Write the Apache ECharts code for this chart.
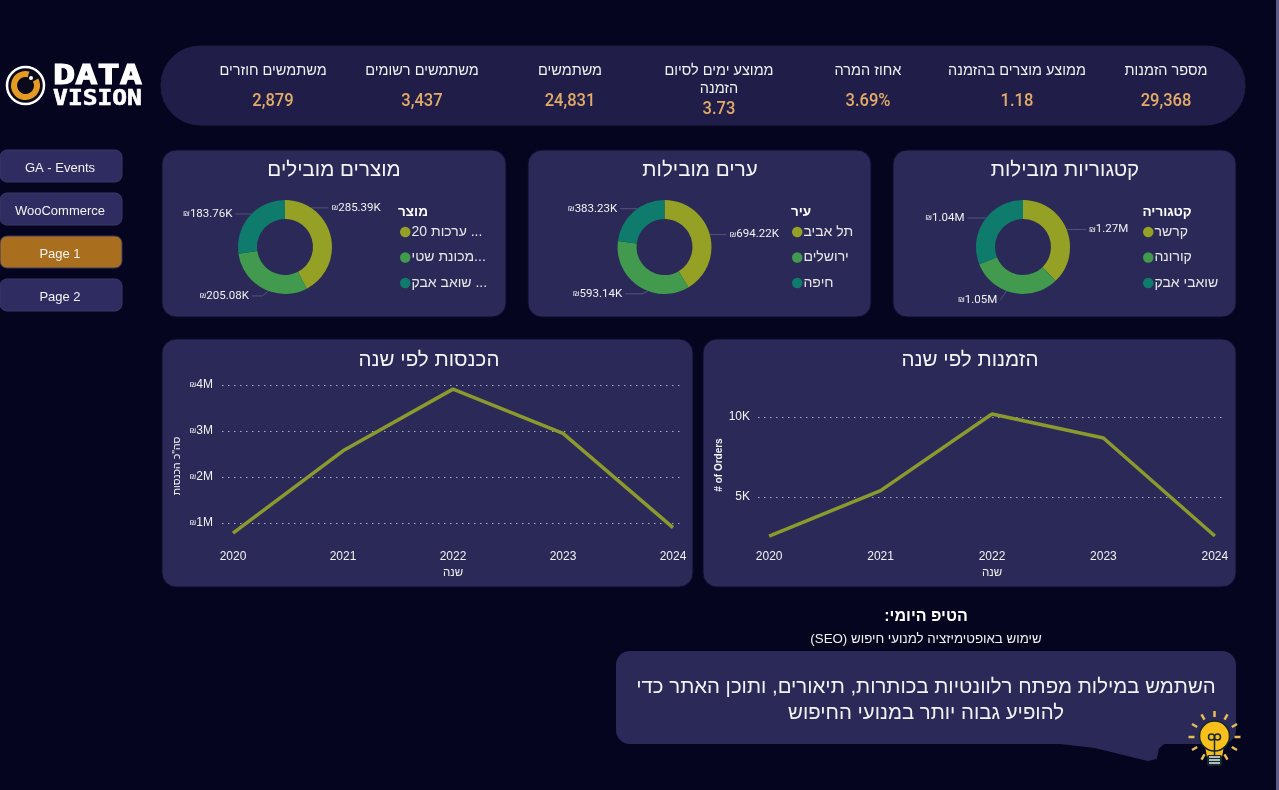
<!DOCTYPE html>
<html><head><meta charset="utf-8">
<style>html,body{margin:0;padding:0;background:#05051f;overflow:hidden}#c{width:1279px;height:790px}</style>
<script src="https://cdn.jsdelivr.net/npm/echarts@6/dist/echarts.min.js"></script></head>
<body><div id="c"></div>
<script>
const kpiLabels=['מספר הזמנות','ממוצע מוצרים בהזמנה','אחוז המרה','ממוצע ימים לסיום\nהזמנה','משתמשים','משתמשים רשומים','משתמשים חוזרים'];
const kpiValues=['29,368','1.18','3.69%','3.73','24,831','3,437','2,879'];
const navLabels=['GA - Events','WooCommerce','Page 1','Page 2'];
const catNames=['קרשר','קורונה','שואבי אבק'];
const catValues=[1.27e6,1.05e6,1.04e6];
const catLabels=['1.27M','1.05M','1.04M'];
const cityNames=['תל אביב','ירושלים','חיפה'];
const cityValues=[694220,593140,383230];
const cityLabels=['694.22K','593.14K','383.23K'];
const prodNames=['20 ערכות ...','מכונת שטי...','שואב אבק ...'];
const prodValues=[285390,205080,183760];
const prodLabels=['285.39K','205.08K','183.76K'];
const years=[2020,2021,2022,2023,2024];
const orders=[2560,5400,10190,8690,2560];
const revenue=[780000,2570000,3910000,2950000,900000];
const FONT='"Liberation Sans","DejaVu Sans",sans-serif';
const NUM='Roboto,"Liberation Sans",sans-serif';
const CARD='#2b2957', OLIVE='#95a125', GREEN='#419a4d', TEAL='#0f7b6c', LINE='#8b9a2c';
const kpiX=[1166,1017,868,719,570,422,273];
const donutX=[1023,664.5,285];
const labelShift=[[[0,3],[1,-1],[2,2]],[[-3,2],[3,1],[4,3]],[[-22,-26],[4,0],[4,3]]];
function card(x,y,w,h,r,fill,stroke){return {type:'rect',silent:true,z:0,shape:{x,y,width:w,height:h,r},style:{fill:fill||CARD,stroke:stroke||'#0c0c2c',lineWidth:1}};}
function txt(x,y,t,size,fill,extra,sx){return {type:'text',z:5,silent:true,x,y,scaleX:sx||1,style:Object.assign({text:t,fill:fill||'#fff',font:`${size}px ${FONT}`,align:'center',verticalAlign:'middle'},extra||{})};}
const g=[];
g.push({type:'rect',silent:true,z:0,shape:{x:1276,y:0,width:3,height:790},style:{fill:'#5c5c86'}});
g.push(card(161,46,1084,79,39,'#201e49','#201e49'));
kpiLabels.forEach((l,i)=>{
  const two=l.includes('\n');
  g.push(txt(kpiX[i],two?80:71,l,14.5,'#f2f2f2',{lineHeight:18}));
  g.push(txt(kpiX[i],two?109:101,kpiValues[i],19,'#e3ab68',{font:`500 19px ${NUM}`},0.87));
});
[[893,150,343,167],[528,150,343,167],[162,150,344,167],[703,339,533,248],[162,339,531,248]].forEach(c=>g.push(card(c[0],c[1],c[2],c[3],14)));
[150,193,236,279].forEach((y,i)=>{
  g.push(card(0,y,122,32,7,i===2?'#a96f1f':'#2e2c61','#3a3868'));
  g.push(txt(60,y+18,navLabels[i],13,'#f2f2f2'));
});
// logo
g.push({type:'circle',z:4,silent:true,shape:{cx:25.5,cy:85.5,r:18.5},style:{fill:'#0a0a1c',stroke:'#fff',lineWidth:2.5}});
g.push({type:'arc',z:5,silent:true,shape:{cx:25.5,cy:85.5,r:11.5,startAngle:-0.5,endAngle:-1.3,clockwise:true},style:{stroke:'#e59a22',lineWidth:6,fill:null}});
g.push({type:'circle',z:6,silent:true,shape:{cx:31,cy:78,r:2},style:{fill:'#fff'}});
g.push(txt(97.5,77,'DATA',27,'#fff',{font:`bold 27px "DejaVu Sans Mono",monospace`,stroke:'#fff',lineWidth:1},1.37));
g.push(txt(97.5,99.5,'VISION',21,'#fff',{font:`bold 21px "DejaVu Sans Mono",monospace`,stroke:'#fff',lineWidth:0.6},1.17));
// tip
g.push(txt(926,617,'הטיפ היומי:\u200F',16,'#fff',{font:`bold 16px ${FONT}`}));
g.push(txt(926,639,'(SEO) שימוש באופטימיזציה למנועי חיפוש',13.3,'#f2f2f2'));
g.push({type:'polygon',z:1,silent:true,shape:{points:[[1060,743],[1095,747],[1148,760],[1156,758],[1158,748],[1164,743]]},style:{fill:CARD,stroke:CARD,lineWidth:2,lineJoin:'round'}});
g.push({type:'rect',z:1,silent:true,shape:{x:616,y:651,width:620,height:93,r:14},style:{fill:CARD}});
g.push(txt(926,687,'השתמש במילות מפתח רלוונטיות בכותרות, תיאורים, ותוכן האתר כדי',20.4,'#f2f2f2'));
g.push(txt(926,713,'להופיע גבוה יותר במנועי החיפוש',20.4,'#f2f2f2'));
// axis names for the x axes
g.push(txt(992,573,'שנה',11.5,'#f2f2f2'));
g.push(txt(453,573,'שנה',11.5,'#f2f2f2'));
// bulb
for(let a=0;a<12;a++){const t=a/12*2*Math.PI;if(Math.sin(t)>0.9)continue;g.push({type:'line',z:6,silent:true,shape:{x1:1214.5+Math.cos(t)*20,y1:737+Math.sin(t)*20,x2:1214.5+Math.cos(t)*26,y2:737+Math.sin(t)*26},style:{stroke:'#e8bd55',lineWidth:2.5}});}
g.push({type:'polygon',z:6,silent:true,shape:{points:[[1205,746],[1224,746],[1222,757],[1207,757]]},style:{fill:'#f8b91c'}});
g.push({type:'circle',z:6,silent:true,shape:{cx:1214.5,cy:736,r:15},style:{fill:'#f9bf1c',stroke:'#12282c',lineWidth:1.5}});
g.push({type:'rect',z:7,silent:true,shape:{x:1207,y:755,width:15,height:11,r:2},style:{fill:'#12282c'}});
[757,760,763].forEach(y=>g.push({type:'line',z:8,silent:true,shape:{x1:1209,y1:y,x2:1220,y2:y},style:{stroke:'#e6ecec',lineWidth:1.5}}));
[1211.5,1217.5].forEach(x=>g.push({type:'circle',z:8,silent:true,shape:{cx:x,cy:737,r:3},style:{fill:null,stroke:'#12282c',lineWidth:1.5}}));
g.push({type:'line',z:8,silent:true,shape:{x1:1214.5,y1:739,x2:1214.5,y2:755},style:{stroke:'#12282c',lineWidth:1.5}});
function donut(cx,names,vals,labels){
  return {type:'pie',center:[cx,247],radius:[28,47],startAngle:90,clockwise:true,avoidLabelOverlap:false,
    itemStyle:{borderWidth:0},
    label:{color:'#f2f2f2',fontSize:11.5,fontFamily:NUM,formatter:p=>'{s|₪}'+labels[p.dataIndex],rich:{s:{fontSize:8,color:'#f2f2f2',fontFamily:FONT}}},
    labelLine:{length:8,length2:10,lineStyle:{color:'#55547c',width:1}},
    labelLayout:p=>{
      const s=labelShift[p.seriesIndex][p.dataIndex], cxx=donutX[p.seriesIndex], r=p.labelRect;
      const cy=r.y+r.height/2+s[1], mid=r.x+r.width/2+s[0], side=mid>cxx?1:-1;
      const edge=side>0?r.x+s[0]-3:r.x+r.width+s[0]+3;
      const dyR=Math.max(-44,Math.min(44,cy-247)), rimX=cxx+side*Math.sqrt(47*47-dyR*dyR);
      const elbow=side>0?Math.min(edge,rimX+6):Math.max(edge,rimX-6);
      return {dx:s[0],dy:s[1],labelLinePoints:[[rimX,247+dyR],[elbow,cy],[edge,cy]]};
    },
    emphasis:{disabled:true},
    data:names.map((n,i)=>({name:n,value:vals[i]}))};
}
function legend(names,left){
  return {orient:'vertical',left,top:220,itemWidth:10.5,itemHeight:10.5,icon:'circle',itemGap:11.5,data:names,selectedMode:false,
    textStyle:{color:'#e8e8e8',fontSize:14,fontFamily:FONT,padding:[0,0,0,-4]}};
}
const titles=[['קטגוריות מובילות',1065,170,20.6],['ערים מובילות',700,170,20.6],['מוצרים מובילים',334,170,20.6],['הזמנות לפי שנה',970,360,20.6],['הכנסות לפי שנה',429,360,20.6],
 ['קטגוריה',1167,212,13.5,1],['עיר',801,212,13.5,1],['מוצר',413,212,13.5,1]];
titles.forEach(t=>g.push(txt(t[1],t[2],t[0],t[3],t[4]?'#fff':'#f4f4f4',t[4]?{font:`bold ${t[3]}px ${FONT}`}:{})));
function xA(grid,margin){return {type:'value',gridIndex:grid,min:2019.9,max:2024.1,
  axisLine:{show:false},axisTick:{show:false},splitLine:{show:false},
  axisLabel:{customValues:years,color:'#f2f2f2',fontSize:12,fontFamily:FONT,margin,formatter:v=>String(v)}};}
function sl(maxLine){return {show:true,showMinLine:false,showMaxLine:maxLine,lineStyle:{color:'#a9a9c0',type:[1.5,4.5],width:1}};}
const opt={backgroundColor:'#05051f',animation:false,color:[OLIVE,GREEN,TEAL],
 graphic:{elements:g},
 legend:[legend(catNames,1138),legend(cityNames,787),legend(prodNames,395)],
 grid:[{left:758,right:1279-1226,top:385,bottom:790-577},{left:222,right:1279-684,top:385,bottom:790-569}],
 xAxis:[xA(0,-26),xA(1,-18)],
 yAxis:[
  {type:'value',gridIndex:0,min:0,max:12000,interval:5000,name:'# of Orders',nameLocation:'middle',nameGap:31,nameTextStyle:{color:'#f2f2f2',fontSize:10,fontWeight:'bold',fontFamily:FONT,padding:[0,0,0,32]},
   axisLine:{show:false},axisTick:{show:false},splitLine:sl(false),
   axisLabel:{color:'#f2f2f2',fontSize:12,fontFamily:FONT,showMinLabel:false,showMaxLabel:false,margin:8,formatter:v=>v===0?'':(v/1000)+'K'}},
  {type:'value',gridIndex:1,min:0,max:4e6,interval:1e6,name:'סה"כ הכנסות',nameLocation:'middle',nameGap:39,nameTextStyle:{color:'#f2f2f2',fontSize:10.5,fontFamily:FONT,padding:[0,0,0,22]},
   axisLine:{show:false},axisTick:{show:false},splitLine:sl(true),
   axisLabel:{color:'#f2f2f2',fontSize:12,fontFamily:FONT,showMinLabel:false,margin:9,formatter:v=>v===0?'':'{s|₪}'+(v/1e6)+'M',rich:{s:{fontSize:8,color:'#f2f2f2',fontFamily:FONT}}}}
 ],
 series:[
  donut(donutX[0],catNames,catValues,catLabels),
  donut(donutX[1],cityNames,cityValues,cityLabels),
  donut(donutX[2],prodNames,prodValues,prodLabels),
  {type:'line',xAxisIndex:0,yAxisIndex:0,symbol:'none',lineStyle:{color:LINE,width:3.5},emphasis:{disabled:true},data:years.map((y,i)=>[y,orders[i]])},
  {type:'line',xAxisIndex:1,yAxisIndex:1,symbol:'none',lineStyle:{color:LINE,width:3.5},emphasis:{disabled:true},data:years.map((y,i)=>[y,revenue[i]])}
 ]};
echarts.init(document.getElementById('c'),null,{renderer:'canvas'}).setOption(opt);
</script></body></html>
